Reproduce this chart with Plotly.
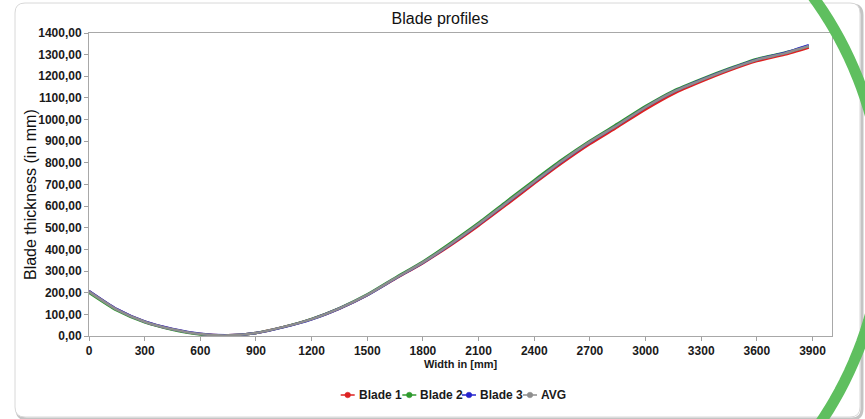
import math
import plotly.graph_objects as go

# ---------------- data ----------------
width_mm = [0, 150, 300, 450, 600, 750, 900, 1050, 1200, 1350, 1500, 1650, 1800,
            1950, 2100, 2250, 2400, 2550, 2700, 2850, 3000, 3150, 3300, 3450,
            3600, 3750, 3880]
blade1 = [207, 123, 66, 31, 9, 3, 14, 42, 78, 127, 189, 264, 337, 420, 510, 606,
          704, 799, 887, 966, 1047, 1119, 1175, 1226, 1270, 1300, 1333]
blade2 = [200, 118, 63, 29, 7, 2, 14, 42, 79, 129, 192, 269, 344, 431, 523, 622,
          720, 815, 902, 981, 1062, 1133, 1187, 1236, 1280, 1309, 1340]
blade3 = [208, 124, 67, 32, 10, 3, 14, 41, 77, 127, 189, 265, 339, 424, 516, 614,
          712, 808, 896, 975, 1057, 1128, 1183, 1233, 1277, 1308, 1344]
avg = [205, 122, 66, 31, 9, 3, 14, 42, 78, 128, 190, 266, 340, 425, 517, 615,
       713, 809, 897, 975, 1057, 1128, 1182, 1232, 1276, 1306, 1340]

series_names = ["Blade 1", "Blade 2", "Blade 3", "AVG"]
series_colors = ["#dd2222", "#2e9a2e", "#2323cc", "#8e8e8e"]

x_ticks = [0, 300, 600, 900, 1200, 1500, 1800, 2100, 2400, 2700, 3000, 3300, 3600, 3900]
y_ticks = [0, 100, 200, 300, 400, 500, 600, 700, 800, 900, 1000, 1100, 1200, 1300, 1400]

chart_title = "Blade profiles"
x_title = "Width in [mm]"
y_title = "Blade thickness (in mm)"

# ---------------- layout helpers ----------------
W, H = 865, 419
ML, MR, MT, MB = 89, 33, 33, 83
PW = W - ML - MR
PH = H - MT - MB


def xp(px):
    return (px - ML) / PW


def yp(py):
    return (H - MB - py) / PH


FONT = "Liberation Sans, Arial, sans-serif"

fig = go.Figure()
for name, ys, col in zip(series_names, [blade1, blade2, blade3, avg], series_colors):
    fig.add_trace(go.Scatter(
        x=width_mm, y=ys, name=name, mode="lines",
        line=dict(color=col, width=2.5, shape="spline", smoothing=0.6),
        showlegend=False,
    ))

axis_common = dict(
    showgrid=False, zeroline=False, showline=True, linecolor="#a8a8a8",
    linewidth=1, mirror=True, ticks="outside", ticklen=4, tickcolor="#a0a0a0",
    tickfont=dict(family=FONT, size=12, color="#1a1a1a", weight="bold"),
)

shapes = []
annotations = []

# frame (rounded rectangle) with soft shadow
def rounded_rect(x0, y0, x1, y1, r):
    pts = (
        f"M {xp(x0 + r)},{yp(y0)} L {xp(x1 - r)},{yp(y0)} "
        f"Q {xp(x1)},{yp(y0)} {xp(x1)},{yp(y0 + r)} "
        f"L {xp(x1)},{yp(y1 - r)} Q {xp(x1)},{yp(y1)} {xp(x1 - r)},{yp(y1)} "
        f"L {xp(x0 + r)},{yp(y1)} Q {xp(x0)},{yp(y1)} {xp(x0)},{yp(y1 - r)} "
        f"L {xp(x0)},{yp(y0 + r)} Q {xp(x0)},{yp(y0)} {xp(x0 + r)},{yp(y0)} Z"
    )
    return pts

shapes.append(dict(type="path", xref="paper", yref="paper",
                   path=rounded_rect(17, 5, 862, 419, 10),
                   line=dict(color="#c4c4c4", width=3), layer="below"))
shapes.append(dict(type="path", xref="paper", yref="paper",
                   path=rounded_rect(15, 3, 860, 417, 10),
                   fillcolor="white", line=dict(color="#d8d8d8", width=1), layer="below"))

# green decorative arc
cx, cy, r = 513, 215, 371
arc = []
for i in range(61):
    a = math.radians(-50 + i * 100 / 60)
    arc.append((cx + r * math.cos(a), cy + r * math.sin(a)))
arc_path = "M " + " L ".join(f"{xp(px)},{yp(py)}" for px, py in arc)
shapes.append(dict(type="path", xref="paper", yref="paper", path=arc_path,
                   line=dict(color="#5fbf5f", width=11), layer="above"))

# manual legend
legend_centers = [347.7, 409.3, 469.0, 530.0]
legend_y = 395
for name, col, c in zip(series_names, series_colors, legend_centers):
    shapes.append(dict(type="line", xref="paper", yref="paper",
                       x0=xp(c - 7), x1=xp(c + 7), y0=yp(legend_y), y1=yp(legend_y),
                       line=dict(color=col, width=1.5)))
    shapes.append(dict(type="circle", xref="paper", yref="paper",
                       x0=xp(c - 2.8), x1=xp(c + 2.8), y0=yp(legend_y + 2.8), y1=yp(legend_y - 2.8),
                       fillcolor=col, line=dict(color=col, width=0.5)))
    annotations.append(dict(xref="paper", yref="paper", x=xp(c + 9), y=yp(legend_y),
                            xanchor="left", yanchor="middle", showarrow=False, text=name,
                            font=dict(family=FONT, size=12, color="#1a1a1a", weight="bold")))

# axis titles
annotations.append(dict(xref="paper", yref="paper", x=xp(460.5), y=yp(364),
                        xanchor="center", yanchor="middle", showarrow=False, text=x_title,
                        font=dict(family=FONT, size=11, color="#1a1a1a", weight="bold")))
annotations.append(dict(xref="paper", yref="paper", x=xp(30), y=yp(195),
                        xanchor="center", yanchor="middle", showarrow=False, text=y_title,
                        textangle=-90, font=dict(family=FONT, size=16, color="#111111")))

fig.update_layout(
    width=W, height=H,
    margin=dict(l=ML, r=MR, t=MT, b=MB),
    paper_bgcolor="white", plot_bgcolor="white",
    separators=",.",
    title=dict(text=chart_title, x=440 / W, y=1 - 18 / H, xanchor="center", yanchor="middle",
               font=dict(family=FONT, size=16, color="#111111")),
    xaxis=dict(range=[0, 4005], tickvals=x_ticks, **axis_common),
    yaxis=dict(range=[0, 1400], tickvals=y_ticks, tickformat=".2f", **axis_common),
    shapes=shapes, annotations=annotations,
    showlegend=False,
)

fig.write_html("out.html")
